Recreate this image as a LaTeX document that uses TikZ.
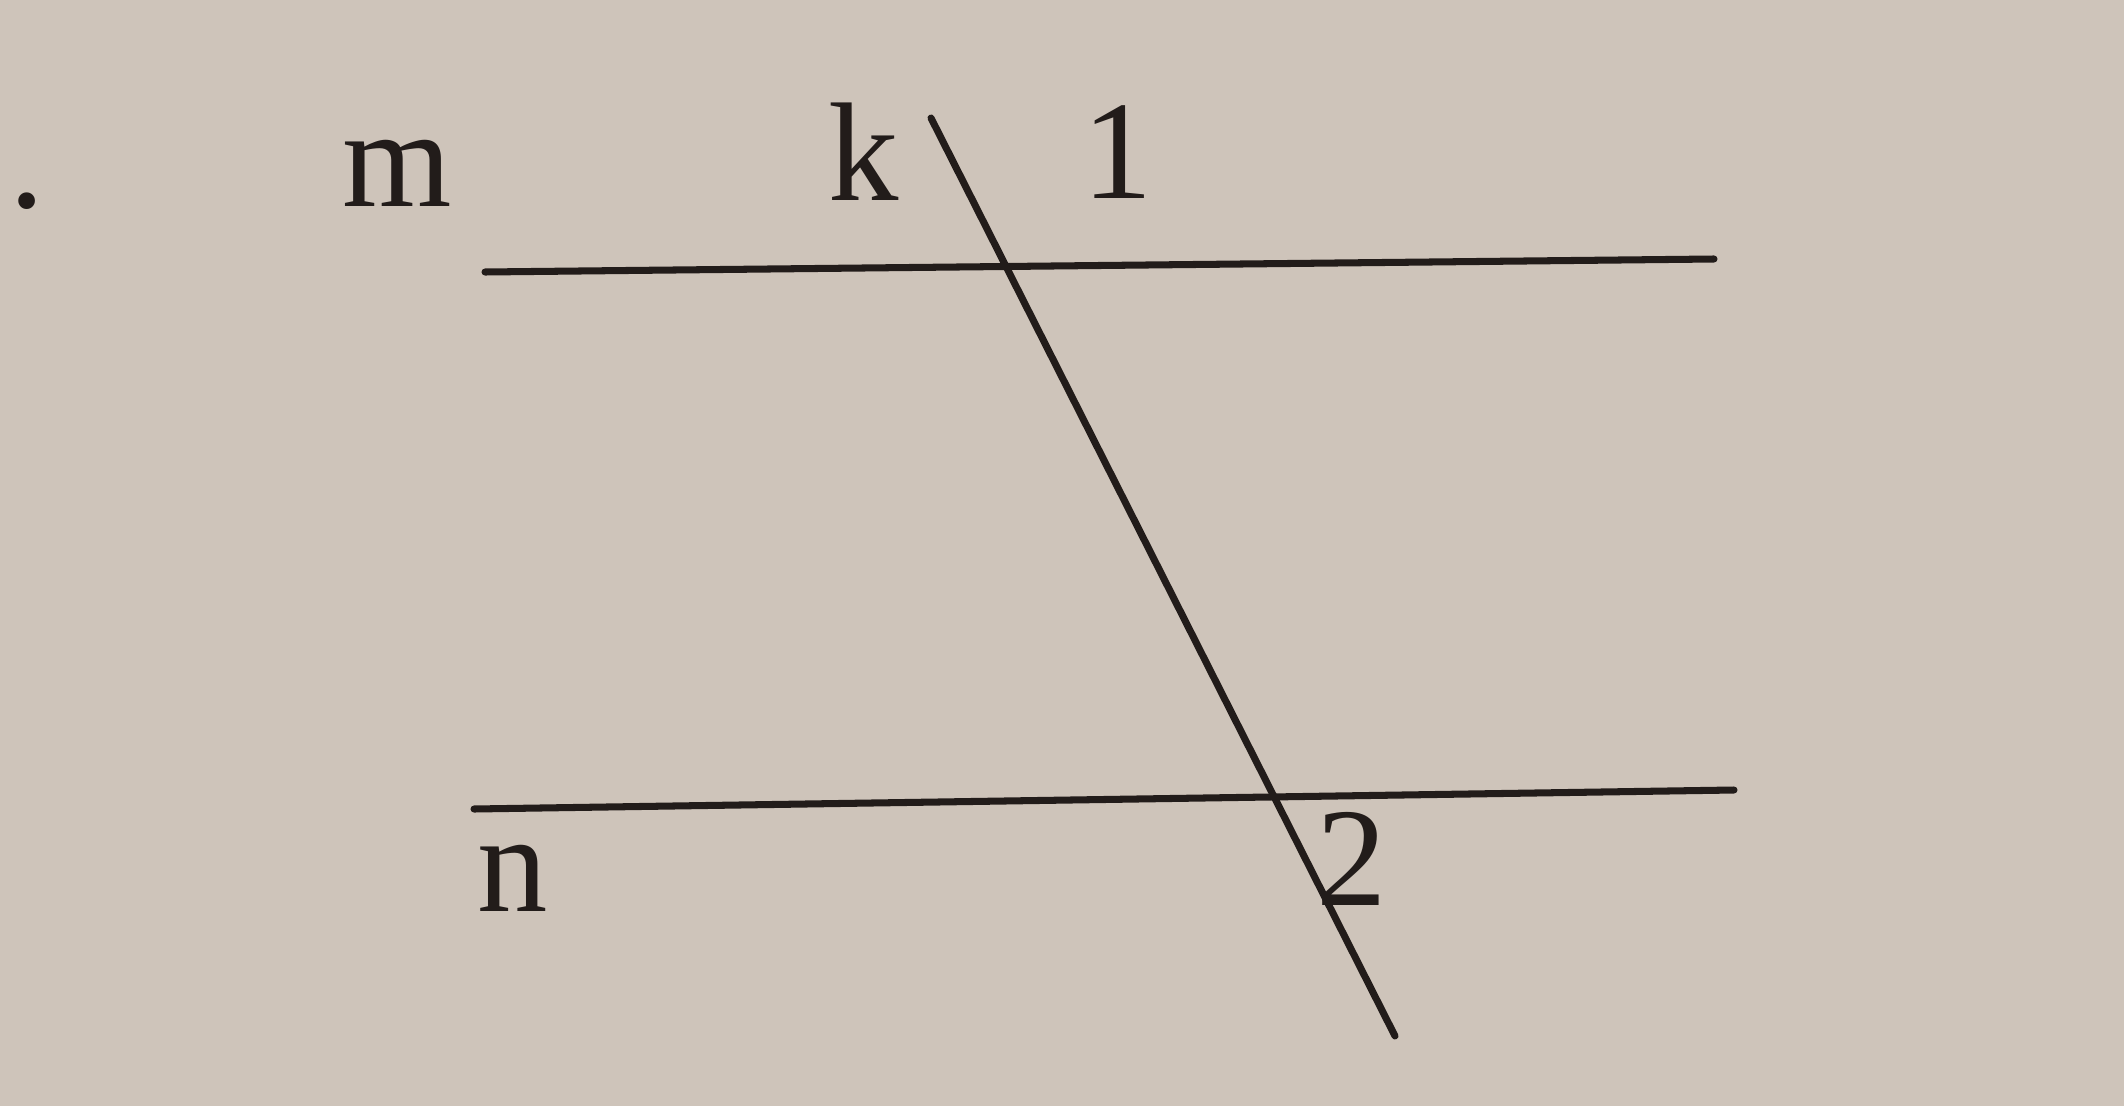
\documentclass[tikz,border=0pt]{standalone}
\usepackage{fontspec}
\setmainfont{Liberation Serif}
\definecolor{paper}{RGB}{206,196,186}
\definecolor{ink}{RGB}{34,28,26}

\begin{document}
\begin{tikzpicture}[x=0.01cm,y=-0.01cm,font=\fontsize{40}{46}\selectfont,text=ink]
% Two styles: lines and labels
\tikzstyle{line}=[draw=ink,line width=2pt,line cap=round];
\tikzstyle{label}=[anchor=base,inner sep=0];
% The paper
\fill[paper](0,0)rectangle(2124,1106);
\useasboundingbox(0,0)rectangle(2124,1106);
% End points of the three lines
\coordinate(m1)at(485,272);
\coordinate(m2)at(1714,259);
\coordinate(n1)at(474,809);
\coordinate(n2)at(1734,790);
\coordinate(k1)at(931,118);
\coordinate(k2)at(1395,1036);
\draw[line](m1)--(m2);
\draw[line](n1)--(n2);
\draw[line](k1)--(k2);
% Labels
\node(dot)[label]at(27,207){.};
\node(m)[label]at(397,206){m};
\node(k)[label]at(864,200){k};
\node(one)[label]at(1118,198){1};
\node(n)[label]at(513,911){n};
\node(two)[label]at(1352,905){2};
\end{tikzpicture}
\end{document}
